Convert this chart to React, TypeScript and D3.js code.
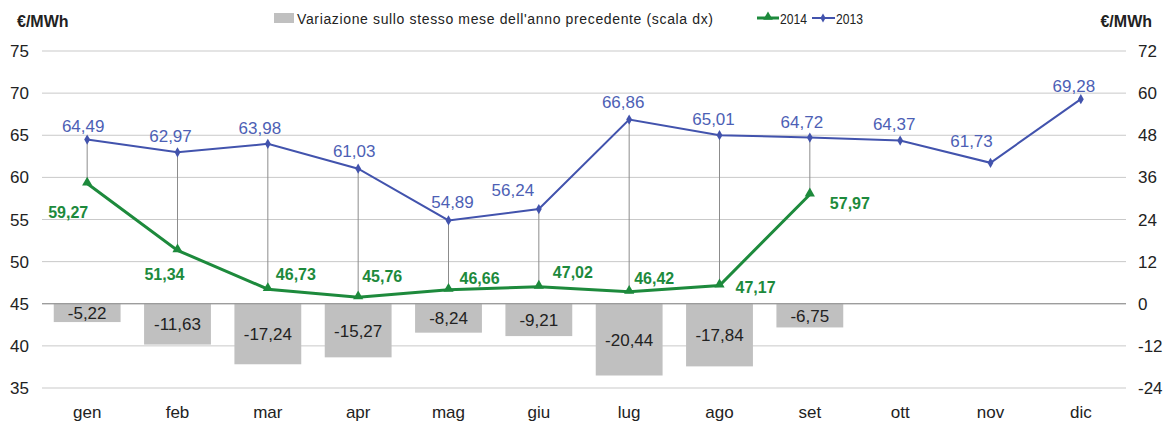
import { useEffect, useRef } from 'react';
import * as d3 from 'd3';

const months = ['gen', 'feb', 'mar', 'apr', 'mag', 'giu', 'lug', 'ago', 'set', 'ott', 'nov', 'dic'];
const values2013 = [64.49, 62.97, 63.98, 61.03, 54.89, 56.24, 66.86, 65.01, 64.72, 64.37, 61.73, 69.28];
const values2014 = [59.27, 51.34, 46.73, 45.76, 46.66, 47.02, 46.42, 47.17, 57.97];
const variation = [-5.22, -11.63, -17.24, -15.27, -8.24, -9.21, -20.44, -17.84, -6.75];
const leftTicks = [35, 40, 45, 50, 55, 60, 65, 70, 75];
const rightTicks = [-24, -12, 0, 12, 24, 36, 48, 60, 72];

// where each label sits relative to its point
const labelOffsets2013 = [
  { dx: -4, dy: -8 },
  { dx: -7, dy: -10 },
  { dx: -8, dy: -10 },
  { dx: -4, dy: -12 },
  { dx: 4, dy: -12 },
  { dx: -26, dy: -13 },
  { dx: -6, dy: -12 },
  { dx: -6, dy: -10 },
  { dx: -8, dy: -10 },
  { dx: -6, dy: -11 },
  { dx: -19, dy: -16 },
  { dx: -7, dy: -7 },
];
const labelOffsets2014 = [
  { dx: -19, dy: 34, anchor: 'middle' },
  { dx: -13, dy: 30, anchor: 'middle' },
  { dx: 8, dy: -9, anchor: 'start' },
  { dx: 4, dy: -15, anchor: 'start' },
  { dx: 11, dy: -6, anchor: 'start' },
  { dx: 14, dy: -9, anchor: 'start' },
  { dx: 5, dy: -8, anchor: 'start' },
  { dx: 16, dy: 8, anchor: 'start' },
  { dx: 20, dy: 15, anchor: 'start' },
];

const fmt = (v: number) => v.toFixed(2).replace('.', ',');

const BLUE = '#4253ad';
const BLUE_LABEL = '#4d5fb5';
const GREEN = '#1d8a3c';
const BAR = '#c0c0c0';
const FONT = '"Liberation Sans", Arial, sans-serif';

function App() {
  const svgRef = useRef<SVGSVGElement>(null);

  useEffect(() => {
    document.body.style.margin = '0';
    const W = 1174;
    const H = 426;
    const left = 42;
    const right = 1126;
    const top = 51;
    const bottom = 388;

    const svg = d3.select(svgRef.current);
    svg.selectAll('*').remove();
    svg.attr('width', W).attr('height', H).style('font-family', FONT);

    const x = d3.scaleBand<string>().domain(months).range([left, right]).paddingInner(0.26).paddingOuter(0.13);
    const xc = (i: number) => (x(months[i]) as number) + x.bandwidth() / 2;
    const yL = d3.scaleLinear().domain([35, 75]).range([bottom, top]);
    const yR = d3.scaleLinear().domain([-24, 72]).range([bottom, top]);

    // gridlines
    svg.append('g')
      .selectAll('line')
      .data(leftTicks)
      .join('line')
      .attr('x1', left)
      .attr('x2', right)
      .attr('y1', d => yL(d))
      .attr('y2', d => yL(d))
      .attr('stroke', '#c9c9c9')
      .attr('stroke-width', 1);

    // bars (right scale)
    const bars = svg.append('g');
    bars.selectAll('rect')
      .data(variation)
      .join('rect')
      .attr('x', (d, i) => x(months[i]) as number)
      .attr('width', x.bandwidth())
      .attr('y', yR(0))
      .attr('height', d => yR(d) - yR(0))
      .attr('fill', BAR);

    // zero line
    svg.append('line')
      .attr('x1', left)
      .attr('x2', right)
      .attr('y1', yR(0))
      .attr('y2', yR(0))
      .attr('stroke', '#8a8a8a')
      .attr('stroke-width', 1);

    bars.selectAll('text')
      .data(variation)
      .join('text')
      .attr('x', (d, i) => xc(i))
      .attr('y', d => (yR(d) + yR(0)) / 2 + 6)
      .attr('text-anchor', 'middle')
      .style('font-size', '17px')
      .attr('fill', '#222')
      .text(d => fmt(d));

    // high-low lines
    svg.append('g')
      .selectAll('line')
      .data(values2014)
      .join('line')
      .attr('x1', (d, i) => xc(i))
      .attr('x2', (d, i) => xc(i))
      .attr('y1', (d, i) => yL(values2013[i]))
      .attr('y2', d => yL(d))
      .attr('stroke', '#8c8c8c')
      .attr('stroke-width', 1);

    // 2013 line
    const line = d3.line<number>().x((d, i) => xc(i)).y(d => yL(d));
    svg.append('path')
      .datum(values2013)
      .attr('fill', 'none')
      .attr('stroke', BLUE)
      .attr('stroke-width', 2)
      .attr('d', line);

    svg.append('g')
      .selectAll('path')
      .data(values2013)
      .join('path')
      .attr('transform', (d, i) => `translate(${xc(i)},${yL(d)})`)
      .attr('d', d3.symbol(d3.symbolDiamond, 30)())
      .attr('fill', BLUE);

    svg.append('g')
      .selectAll('text')
      .data(values2013)
      .join('text')
      .attr('x', (d, i) => xc(i) + labelOffsets2013[i].dx)
      .attr('y', (d, i) => yL(d) + labelOffsets2013[i].dy)
      .attr('text-anchor', 'middle')
      .style('font-size', '17px')
      .attr('fill', BLUE_LABEL)
      .text(d => fmt(d));

    // 2014 line
    svg.append('path')
      .datum(values2014)
      .attr('fill', 'none')
      .attr('stroke', GREEN)
      .attr('stroke-width', 3)
      .attr('d', line);

    svg.append('g')
      .selectAll('path')
      .data(values2014)
      .join('path')
      .attr('transform', (d, i) => `translate(${xc(i)},${yL(d) - 1})`)
      .attr('d', d3.symbol(d3.symbolTriangle, 45)())
      .attr('fill', GREEN);

    svg.append('g')
      .selectAll('text')
      .data(values2014)
      .join('text')
      .attr('x', (d, i) => xc(i) + labelOffsets2014[i].dx)
      .attr('y', (d, i) => yL(d) + labelOffsets2014[i].dy)
      .attr('text-anchor', (d, i) => labelOffsets2014[i].anchor)
      .style('font-size', '16px')
      .style('font-weight', 'bold')
      .attr('fill', GREEN)
      .text(d => fmt(d));

    // left axis labels
    svg.append('g')
      .selectAll('text')
      .data(leftTicks)
      .join('text')
      .attr('x', 29)
      .attr('y', d => yL(d) + 6)
      .attr('text-anchor', 'end')
      .style('font-size', '17px')
      .attr('fill', '#222')
      .text(d => d);

    // right axis labels
    svg.append('g')
      .selectAll('text')
      .data(rightTicks)
      .join('text')
      .attr('x', 1138)
      .attr('y', d => yR(d) + 6)
      .attr('text-anchor', 'start')
      .style('font-size', '17px')
      .attr('fill', '#222')
      .text(d => d);

    // category labels
    svg.append('g')
      .selectAll('text')
      .data(months)
      .join('text')
      .attr('x', (d, i) => xc(i))
      .attr('y', 418)
      .attr('text-anchor', 'middle')
      .style('font-size', '17px')
      .attr('fill', '#222')
      .text(d => d);

    // unit titles
    svg.append('text')
      .attr('x', 17)
      .attr('y', 27)
      .style('font-size', '16px')
      .style('font-weight', 'bold')
      .attr('fill', '#222')
      .text('€/MWh');

    svg.append('text')
      .attr('x', 1152)
      .attr('y', 27)
      .attr('text-anchor', 'end')
      .style('font-size', '16px')
      .style('font-weight', 'bold')
      .attr('fill', '#222')
      .text('€/MWh');

    // legend
    const legend = svg.append('g').style('font-size', '14px').attr('fill', '#222');
    legend.append('rect')
      .attr('x', 274)
      .attr('y', 13)
      .attr('width', 20)
      .attr('height', 10)
      .attr('fill', BAR);
    legend.append('text')
      .attr('x', 297)
      .attr('y', 24)
      .attr('textLength', 416)
      .text('Variazione sullo stesso mese dell\'anno precedente (scala dx)');

    legend.append('line')
      .attr('x1', 757)
      .attr('x2', 779)
      .attr('y1', 18)
      .attr('y2', 18)
      .attr('stroke', GREEN)
      .attr('stroke-width', 3);
    legend.append('path')
      .attr('transform', 'translate(768,17)')
      .attr('d', d3.symbol(d3.symbolTriangle, 40)())
      .attr('fill', GREEN);
    legend.append('text')
      .attr('x', 780)
      .attr('y', 24)
      .attr('textLength', 27)
      .attr('lengthAdjust', 'spacingAndGlyphs')
      .text('2014');

    legend.append('line')
      .attr('x1', 812)
      .attr('x2', 835)
      .attr('y1', 18)
      .attr('y2', 18)
      .attr('stroke', BLUE)
      .attr('stroke-width', 2);
    legend.append('path')
      .attr('transform', 'translate(823,18)')
      .attr('d', d3.symbol(d3.symbolDiamond, 24)())
      .attr('fill', BLUE);
    legend.append('text')
      .attr('x', 836)
      .attr('y', 24)
      .attr('textLength', 27)
      .attr('lengthAdjust', 'spacingAndGlyphs')
      .text('2013');
  }, []);

  return <svg ref={svgRef}></svg>;
}

export default App;
